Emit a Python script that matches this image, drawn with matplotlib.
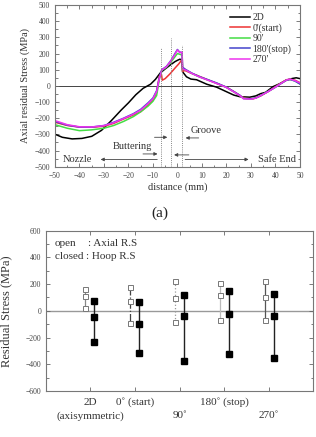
import matplotlib
matplotlib.use("Agg")
import matplotlib.pyplot as plt
from matplotlib.ticker import MultipleLocator
import matplotlib.transforms as mtransforms

plt.rcParams['font.family'] = ['Liberation Serif', 'DejaVu Serif']

# ---------------- data: top panel (axial residual stress vs distance) -------------
x_2d = [-50, -47, -43, -39, -35, -31, -27, -23, -20, -17, -14, -11, -9, -7, -5, -3, -1, 0, 1, 1.8, 2.1,
        3.7, 5.5, 7.8, 12, 16, 20, 23, 25.5, 29.5, 32, 34, 36, 39, 42, 44.5, 47, 48.5, 50]
y_2d = [-299, -318, -328, -325, -312, -275, -215, -150, -105, -55, -15, 10, 40, 80, 105, 128, 150, 158, 165, 160, 87,
        56, 42, 38, 10, -8, -36, -57, -67, -70, -62, -48, -40, -5, 15, 36, 46, 50, 45]

x_0 = [-50, -45, -40, -35, -30, -26, -22, -18, -15, -12, -10, -8.5, -7.4, -6.5, -6.2, -5, -3, -1, 0.5, 1.5, 1.9, 2.1,
       3, 5, 8, 12, 16, 20, 23, 26, 28, 31, 34, 37, 40, 42, 44.5, 46, 48, 50]
y_0 = [-225, -245, -255, -256, -250, -232, -205, -180, -160, -120, -90, -40, 60, 70, 35, 45, 75, 110, 135, 155, 165, 90,
       95, 82, 65, 40, 15, -8, -35, -65, -78, -80, -62, -35, -5, 15, 38, 40, 35, 20]

x_90 = [-50, -45, -40, -35, -30, -26, -22, -18, -15, -12, -10, -8.5, -7.4, -6.4, -4.5, -2.5, -1, 0, 1, 1.9, 2.1,
        3.5, 6, 9, 13, 16, 20, 23, 25.5, 27, 30, 32, 34, 37, 40, 42, 44.5, 46, 48, 50]
y_90 = [-240, -262, -277, -272, -262, -245, -220, -190, -160, -125, -95, -60, 40, 95, 115, 150, 180, 200, 195, 190, 105,
        98, 76, 55, 33, 16, -10, -37, -60, -78, -80, -75, -60, -35, -8, 12, 35, 40, 30, 12]

x_180 = [-50, -45, -40, -35, -30, -26, -22, -18, -15, -12, -10, -8.5, -7.4, -6.4, -4.5, -2.5, -1, 0, 0.8, 1.9, 2.1,
         3.5, 6, 9, 13, 16, 20, 23, 25.5, 27, 30, 32, 34, 37, 40, 42, 44.5, 46, 48, 50]
y_180 = [-220, -243, -255, -255, -245, -225, -200, -172, -145, -105, -75, -30, 50, 100, 120, 160, 200, 225, 210, 205, 115,
         100, 78, 57, 35, 18, -8, -35, -58, -78, -80, -75, -60, -35, -8, 12, 35, 40, 30, 12]

x_270 = [-50, -45, -40, -35, -30, -26, -22, -18, -15, -12, -10, -8.5, -7.4, -6.4, -4.5, -2.5, -1, 0, 1, 1.9, 2.1,
         3.5, 6, 9, 13, 16, 20, 23, 25.5, 27, 30, 32, 34, 37, 40, 42, 44.5, 46, 48, 50]
y_270 = [-215, -240, -253, -254, -246, -228, -202, -175, -150, -110, -80, -35, 45, 98, 118, 158, 195, 222, 205, 210, 105,
         97, 76, 55, 32, 15, -10, -37, -60, -80, -82, -76, -60, -36, -8, 12, 36, 42, 32, 18]

series_labels = ["2D", "0'(start)", "90'", "180'(stop)", "270'"]
series_colors = ["black", "#ee3333", "#44dd44", "#4444cc", "#ee33ee"]

line_x = [-6.7, -2.8, 2.0]
line_top = [233, 295, 252]

# ---------------- data: bottom panel (residual stress per case) -------------
case_row1 = ["2D", "0\u02da (start)", "", "180\u02da (stop)", ""]
case_row2 = ["(axisymmetric)", "", "90\u02da", "", "270\u02da"]
axial_vals = [[162, 110, 23], [175, 73, -90], [222, 97, -85], [205, 118, -72], [225, 105, -70]]
hoop_vals = [[73, -45, -234], [68, -102, -315], [120, -40, -375], [147, -20, -322], [125, -35, -352]]
axial_styles = ['-', '-.', ':', '-', '-']
axial_lcolors = ['#888888', '#444444', '#999999', '#bbbbbb', '#555555']

fig = plt.figure(figsize=(3.16, 4.37), dpi=100)

# ---------------- top panel ----------------
ax = fig.add_axes([0.174, 0.6185, 0.775, 0.370])
xs = [x_2d, x_0, x_90, x_180, x_270]
ys = [y_2d, y_0, y_90, y_180, y_270]
for xx, yy, lab, c in zip(xs, ys, series_labels, series_colors):
    ax.plot(xx, yy, color=c, lw=1.1, label=lab)
ax.axhline(0, color='#444444', lw=0.7, zorder=0)
for lx, lt in zip(line_x, line_top):
    ax.plot([lx, lx], [-500, lt], color='#888888', lw=0.7, ls=(0, (1, 1.2)))
ax.set_xlim(-50, 50)
ax.set_ylim(-500, 500)
ax.xaxis.set_major_locator(MultipleLocator(10))
ax.xaxis.set_minor_locator(MultipleLocator(5))
ax.yaxis.set_major_locator(MultipleLocator(100))
ax.yaxis.set_minor_locator(MultipleLocator(50))
ax.tick_params(which='both', direction='in', top=True, right=True, labelsize=5.5,
               labelcolor='#444444', color='#666666', width=0.6)
ax.tick_params(which='major', length=3)
ax.tick_params(which='minor', length=1.8)
for s in ax.spines.values():
    s.set_color('#777777')
    s.set_linewidth(0.8)
ax.set_xlabel('distance (mm)', fontsize=7.5, labelpad=2, color='#333333')
ax.set_ylabel('Axial residual Stress (MPa)', fontsize=7.5, labelpad=3, color='#333333')
leg = ax.legend(loc='upper left', bbox_to_anchor=(0.69, 0.985), frameon=False, fontsize=7,
                handlelength=2.1, handletextpad=0.25, labelspacing=0.12, borderpad=0.1)
for t in leg.get_texts():
    t.set_color('#333333')

arr = dict(arrowstyle='-|>', color='#444444', lw=0.6, mutation_scale=5)
ax.text(11.6, -279, 'Groove', fontsize=7.5, ha='center', va='center', color='#333333')
ax.annotate('', xy=(-3.0, -318), xytext=(-10.5, -318), arrowprops=arr)
ax.annotate('', xy=(2.2, -322), xytext=(9.8, -322), arrowprops=arr)
ax.text(-18.5, -376, 'Buttering', fontsize=7.5, ha='center', va='center', color='#333333')
ax.annotate('', xy=(-7.0, -421), xytext=(-15.2, -421), arrowprops=arr)
ax.annotate('', xy=(-2.5, -427), xytext=(5.8, -427), arrowprops=arr)
ax.text(-40.9, -457, 'Nozzle', fontsize=7.5, ha='center', va='center', color='#333333')
ax.annotate('', xy=(-32.5, -455), xytext=(-7.1, -455), arrowprops=arr)
ax.text(40.5, -457, 'Safe End', fontsize=7.5, ha='center', va='center', color='#333333')
ax.annotate('', xy=(30.2, -455), xytext=(2.0, -455), arrowprops=arr)

fig.text(0.506, 0.5126, '(a)', fontsize=11, ha='center', va='center', color='#222222')

# ---------------- bottom panel ----------------
bx = fig.add_axes([0.1456, 0.1053, 0.845, 0.3668])
pos = list(range(1, len(axial_vals) + 1))
for p, av, hv, st, lc in zip(pos, axial_vals, hoop_vals, axial_styles, axial_lcolors):
    bx.plot([p - 0.1] * len(av), av, ls=st, color=lc, lw=0.9, marker='s', ms=3.6,
            mfc='white', mec='#777777', mew=0.7)
    bx.plot([p + 0.1] * len(hv), hv, ls='-', color='#222222', lw=1.0, marker='s', ms=3.8,
            mfc='black', mec='black')
bx.axhline(0, color='#999999', lw=1.0, zorder=0)
bx.set_xlim(0.02, 5.98)
bx.set_ylim(-600, 600)
bx.set_xticks(pos)
bx.set_xticklabels([''] * len(pos))
trans = mtransforms.blended_transform_factory(bx.transData, bx.transAxes)
for p, r1, r2 in zip(pos, case_row1, case_row2):
    if r1:
        bx.text(p, -0.07, r1, transform=trans, ha='center', va='center', fontsize=8, color='#333333')
    if r2:
        bx.text(p, -0.155, r2, transform=trans, ha='center', va='center', fontsize=8, color='#333333')
bx.yaxis.set_major_locator(MultipleLocator(200))
bx.yaxis.set_minor_locator(MultipleLocator(100))
bx.tick_params(which='both', direction='in', top=True, right=True, color='#666666', width=0.6)
bx.tick_params(axis='y', labelsize=5.5, labelcolor='#444444')
bx.tick_params(which='major', length=3)
bx.tick_params(which='minor', length=1.8)
for s in bx.spines.values():
    s.set_color('#777777')
    s.set_linewidth(0.8)
bx.set_ylabel('Residual Stress (MPa)', fontsize=9, color='#333333')
bx.yaxis.set_label_coords(-0.128, 0.5)
bx.text(0.034, 0.921, 'open', transform=bx.transAxes, fontsize=8, va='center', color='#333333')
t_closed = bx.text(0.034, 0.838, 'closed ', transform=bx.transAxes, fontsize=8, va='center', color='#333333')
fig.canvas.draw()
bb = t_closed.get_window_extent(renderer=fig.canvas.get_renderer())
x_colon = bx.transAxes.inverted().transform((bb.x1, bb.y0))[0]
bx.text(x_colon, 0.838, ': Hoop R.S', transform=bx.transAxes, fontsize=8, va='center', color='#333333')
bx.text(x_colon + 0.008, 0.921, ': Axial R.S', transform=bx.transAxes, fontsize=8, va='center', color='#333333')

fig.savefig('out.png', dpi=100)
